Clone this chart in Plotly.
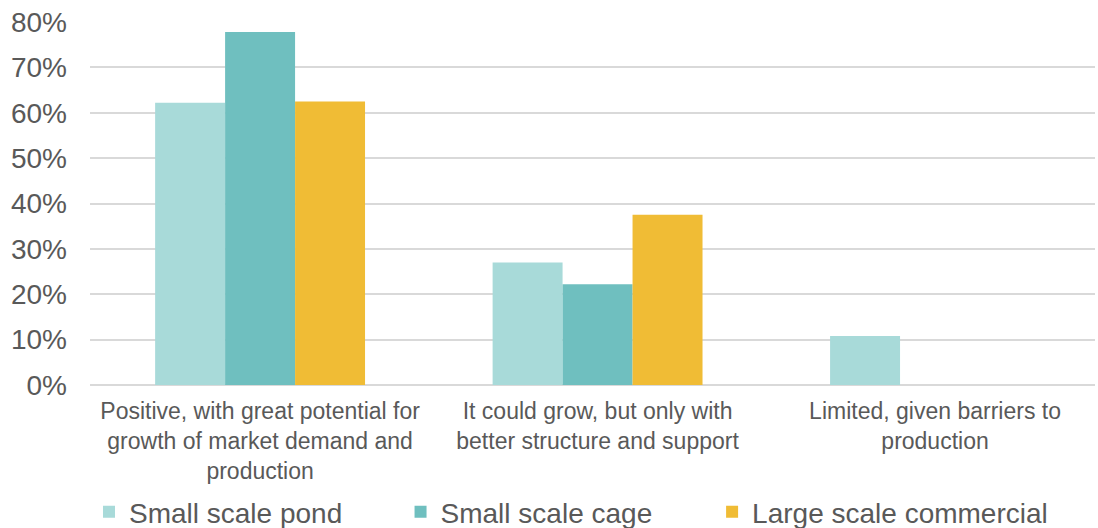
import plotly.graph_objects as go

categories = [
    "Positive, with great potential for<br>growth of market demand and<br>production",
    "It could grow, but only with<br>better structure and support",
    "Limited, given barriers to<br>production",
]
series_names = ["Small scale pond", "Small scale cage", "Large scale commercial"]
pond = [0.622, 0.270, 0.108]
cage = [0.778, 0.222, 0.0]
large = [0.625, 0.375, 0.0]
colors = ["#a8dad9", "#6fbfbf", "#f0bc35"]
y_ticks = [0, 0.1, 0.2, 0.3, 0.4, 0.5, 0.6, 0.7, 0.8]

legend_ids = ["legend", "legend2", "legend3"]
legend_x = [-0.001, 0.309, 0.619]

fig = go.Figure()
for name, vals, col, lid in zip(series_names, [pond, cage, large], colors, legend_ids):
    fig.add_trace(go.Bar(name=name, x=categories, y=vals, marker_color=col,
                         marker_line_width=0, legend=lid))

font_fam = "Liberation Sans, Arial, sans-serif"
legend_common = dict(orientation="h", xanchor="left",
                     yref="container", y=0.03, yanchor="middle",
                     font=dict(size=28, color="#595959", family=font_fam),
                     itemwidth=30, bgcolor="rgba(0,0,0,0)")
legends = {lid: dict(x=lx, **legend_common) for lid, lx in zip(legend_ids, legend_x)}

fig.update_layout(
    width=1098, height=528,
    paper_bgcolor="white", plot_bgcolor="white",
    margin=dict(l=90, r=3, t=22, b=143, autoexpand=False),
    barmode="group", bargap=0.378, bargroupgap=0,
    font=dict(family=font_fam, color="#595959"),
    showlegend=True,
    xaxis=dict(tickfont=dict(size=23, color="#595959"), showline=False,
               ticks="", showgrid=False, automargin=False,
               ticklabelstandoff=10, range=[-0.504, 2.474]),
    yaxis=dict(range=[0, 0.8], tickvals=y_ticks, tickformat=".0%",
               tickfont=dict(size=28, color="#595959"),
               showgrid=True, gridcolor="#d9d9d9", gridwidth=1.5,
               zeroline=True, zerolinecolor="#d9d9d9", zerolinewidth=2,
               ticklabelstandoff=22, showline=False, automargin=False),
    **legends,
)

fig.write_html("out.html", config={"displayModeBar": False},
               post_script="document.body.style.margin='0px';document.body.style.padding='0px';")
